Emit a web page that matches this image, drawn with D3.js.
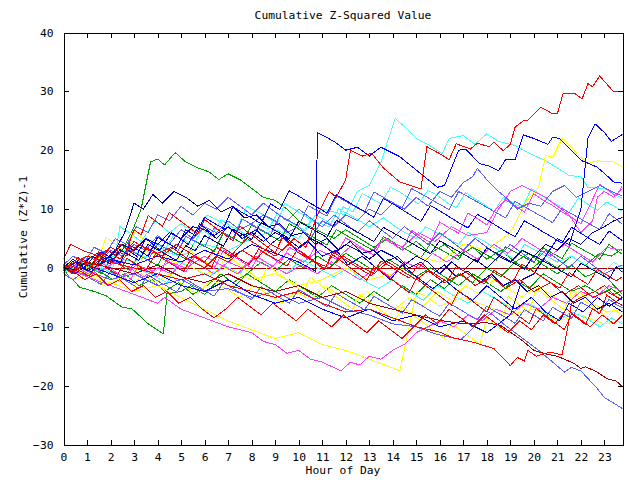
<!DOCTYPE html>
<html><head><meta charset="utf-8">
<script src="https://cdn.jsdelivr.net/npm/d3@7"></script>
<style>body{margin:0;background:#fff}svg{display:block}text{font-family:"DejaVu Sans Mono","Liberation Mono",monospace;font-size:11.3px;fill:#000}</style>
</head><body><svg id="c" width="640" height="480"></svg>
<script>
const title = "Cumulative Z-Squared Value";
const xTitle = "Hour of Day";
const yTitle = "Cumulative (Z*Z)-1";
const xTicks = d3.range(0, 24);
const yTicks = [-30, -20, -10, 0, 10, 20, 30, 40];
const xMax = 23.77;

const sRedTop = [[0,1.5],[0.3,4],[0.8,3],[1.5,2],[2,3.5],[2.7,2],[3.2,4],[4,2.5],[4.6,3.5],[5.3,1.5],[6,0],[6.5,2],[7,1],[7.6,3],[8.2,1.5],[8.8,4],[9.3,3],[9.8,5],[10.3,3.5],[10.8,9],[11.3,13],[11.6,12],[12,15],[12.2,20],[12.7,19],[13.1,19.5],[13.6,17],[14.3,14.6],[15.2,13.4],[15.45,20.6],[16.0,19.4],[16.4,18.4],[16.7,21.1],[17.3,20.2],[17.6,21.2],[18.1,20.6],[18.3,21.4],[18.7,19.9],[19.0,21],[19.2,23.9],[19.55,25],[19.75,25.1],[20.3,27.3],[20.8,26.2],[21.0,26.2],[21.25,29.7],[21.75,29.6],[22.05,28.7],[22.3,31.3],[22.5,30.8],[22.8,32.6],[23.4,29.9],[23.77,30]];
const sBlueJump = [[0,0],[0.5,1],[1,-0.5],[2,1.5],[3,0.5],[4,2],[5,1],[6,3],[7,1.5],[8,4],[9,2.5],[10,1],[10.7,-0.5],[10.8,23],[11.5,21.5],[12,20],[12.5,20.5],[13,19],[13.5,20.5],[14.3,18.9],[15.9,13.7],[16.2,14],[16.8,20],[17.1,20.2],[17.7,17.7],[18.1,17.3],[18.5,16.5],[18.8,18.4],[19.2,18.4],[19.55,22.6],[20.0,22],[20.6,21],[20.8,22.2],[21.1,22],[21.75,19.4],[22.05,18.2],[22.3,17.8],[22.7,17.1],[23.1,15.7],[23.4,14.6],[23.77,14.4]];
const sBlueEnd = [[0,0],[0.5,-1],[1,0.5],[2,-1],[3,-2.5],[4,-1],[5,-3],[6,-4],[7,-2],[8,-4.5],[9,-6],[10,-5],[11,-7],[12,-8.5],[13,-7],[14,-9],[15,-8],[16,-10],[17,-9],[18,-11],[19,-8],[19.5,-2],[20,-1],[20.5,2],[21,5],[21.5,4],[22,10],[22.3,22],[22.6,24.5],[23,23],[23.3,21.5],[23.77,22.7]];
const sCyanTop = [[0,0],[0.5,1],[1,-0.5],[2,2],[3,1],[4,3],[5,2],[6,4],[7,3],[8,5],[9,6.5],[10,5],[10.5,8],[11,10],[12,9],[12.5,13],[13,14],[13.5,18],[14.1,25.4],[14.5,24],[15,22],[15.5,21],[16.1,19.4],[16.4,22],[17,22.5],[17.5,21],[18,22.8],[18.5,21.5],[19.2,20.8],[19.8,19.5],[20.5,18.2],[21,17],[21.5,15.7],[22,15.5],[22.3,13.7],[23,13.5],[23.4,12.6],[23.77,11.8]];
const sYellowTop = [[0,0],[1,-1],[2,-2],[3,-1.5],[3.5,3],[4,2],[5,1],[6,-1],[7,0],[8,-2],[9,-1],[10,-3],[11,-2],[12,0],[13,-2],[14,-1],[15,2],[16,1],[17,4],[18,3],[19,6],[19.7,11.4],[20.2,13.7],[20.5,19.1],[20.8,18.8],[21.2,22],[21.6,20.5],[21.9,19.1],[22.3,17.7],[22.7,18.2],[23.4,18],[23.77,17.2]];
const sMagentaTop = [[0,-0.5],[0.6,0.5],[1.2,-1],[1.8,0],[2.5,-1.5],[3.1,0.5],[3.8,-0.5],[4.5,1],[5.2,0],[6,2],[6.7,0.5],[7.4,-1],[8.1,1.5],[8.8,0],[9.5,2.5],[10.2,1],[10.9,3],[11.6,1.5],[12.3,4],[13,2.5],[13.7,5],[14.4,3.5],[15.1,6],[15.8,4.5],[16.5,7],[17.2,5.5],[18,6],[18.5,10],[19,13],[19.5,14],[20,13],[20.5,12],[21,10.5],[21.5,9],[22,6],[22.5,8],[22.7,12],[23,13],[23.4,12],[23.77,13.5]];
const sLightBlueTop = [[0,-0.5],[0.5,0.5],[1,2],[1.5,1],[2,3],[2.5,2],[3,4],[3.5,3],[4,5.5],[4.5,4],[5,6.5],[5.5,5],[6,7],[6.5,6],[7,8],[7.5,6.5],[8,7.5],[8.5,9],[9,8],[9.5,6],[10,7],[10.5,5],[11,8],[11.5,7],[12,9],[12.5,8],[13,10],[13.5,9],[14,11],[14.5,10],[15,12],[15.5,10.5],[16,13],[16.5,12],[17,14.5],[17.4,15.5],[17.6,16.9],[18,15],[18.5,13],[18.8,12],[19.3,10],[19.8,11],[20.3,10.5],[20.8,13],[21.3,14],[21.8,12],[22.3,13],[22.8,14],[23.3,13],[23.77,12.2]];
const sNavyEnd = [[0,0.5],[0.5,-0.5],[1,1],[1.5,0.5],[2,2],[2.5,4],[3,3],[3.5,5],[4,4],[4.5,6],[5,5],[5.5,7],[6,6.5],[6.5,5],[7,7],[7.5,5.5],[8,6],[8.5,4.5],[9,6],[9.5,5],[10,3.5],[10.5,5],[11,4],[11.5,2.5],[12,4],[12.5,3],[13,1.5],[13.5,3],[14,2],[14.5,0.5],[15,2],[15.5,1],[16,-1],[16.5,1],[17,-0.5],[17.5,1.5],[18,0],[18.5,2],[19,1],[19.5,3],[20,2],[20.5,4],[21,3],[21.5,5],[22,4],[22.5,6],[23,7],[23.4,8],[23.77,8.6]];
const sMagentaLow = [[0,0],[0.5,-0.5],[1,-1.5],[2,-3],[3,-4.5],[4,-6],[4.3,-5],[5,-7],[6,-8.5],[7,-10],[8,-11],[8.5,-12.5],[9,-13],[9.5,-14.5],[10,-14],[10.5,-15.5],[11,-16],[11.8,-17.5],[12.2,-16],[12.6,-16.5],[13,-15],[13.5,-15.5],[14,-14],[14.5,-13],[15,-11],[15.5,-10],[16,-9],[16.6,-10],[17.2,-8],[17.8,-9],[18.4,-7],[19,-8],[19.6,-6],[20.2,-7],[20.8,-5],[21.4,-6],[22,-4],[22.6,-5],[23.2,-3],[23.77,-4]];
const sYellowLow = [[0,0],[1,-1.5],[2,-2.5],[3,-4],[4,-3],[5,-5],[6,-7],[7,-9],[8,-10.5],[9,-12],[10,-11],[11,-13],[12,-14],[13,-15.5],[14,-17],[14.3,-17.5],[14.7,-10],[15,-4],[15.5,-5],[16,-6.5],[17,-5],[18,-6.5],[19,-8],[20,-7],[21,-9],[22,-8],[23,-9.5],[23.77,-9]];
const sGreenLow = [[0,0],[0.15,-1],[0.7,-3.3],[1.3,-4],[1.8,-4.7],[2.5,-6.7],[2.9,-6.9],[3.6,-9.5],[4.25,-11.2],[4.4,-4.4],[5,-4],[5.4,-3],[6,-4.5],[6.6,-2],[7.2,-3.5],[7.8,-1],[8.4,-2.5],[9,-4],[9.6,-2],[10.2,-3.5],[10.8,-5],[11.4,-3],[12,-4.5],[12.6,-6],[13.2,-4],[13.8,-5.5],[14.4,-3],[15,-4.5],[15.6,-2],[16.2,-3.5],[16.8,-1],[17.4,-2.5],[18,0],[18.6,-1.5],[19.2,1],[19.8,-0.5],[20.4,1.5],[21,0],[21.6,2],[22.2,0.5],[22.8,2.5],[23.3,2],[23.77,3.3]];
const sGreenTop = [[0,0],[0.5,-1],[1,0],[1.5,2],[2,1],[2.5,3],[3,7],[3.3,10],[3.7,18],[4,18.5],[4.3,17.5],[4.75,19.6],[5.2,18],[5.7,17],[6.2,16.3],[6.6,15],[7,16],[7.5,15],[8,13.5],[8.5,12],[9,11.5],[9.5,10],[10,8],[10.5,7],[11,6],[11.5,5],[12,6.5],[12.6,5],[13.2,3.5],[13.8,5],[14.4,3],[15,4.5],[15.6,2.5],[16.2,4],[16.8,2],[17.4,3.5],[18,1.5],[18.6,3],[19.2,1],[19.8,2.5],[20.4,0.5],[21,-1],[21.6,0.5],[22.2,-1.5],[22.8,-0.5],[23.3,-2.5],[23.77,-4.5]];
const sDarkRedLow = [[0,0],[0.5,-0.5],[1,1],[2,0],[3,-1],[4,0.5],[5,-1.5],[6,-2.5],[7,-1],[8,-3],[9,-4],[10,-3],[11,-5],[12,-4],[13,-6],[14,-7],[15,-8],[16,-8.9],[17,-9.5],[18,-9.3],[18.6,-9.8],[19.5,-12.3],[20,-14],[20.5,-14.6],[21,-15],[21.7,-16.2],[22,-17.1],[22.2,-16.8],[22.7,-17.7],[23.1,-18.8],[23.5,-19.2],[23.77,-20.2]];
const sLightBlueLow = [[0,0],[0.5,1],[1,-0.5],[2,-2],[3,-1],[4,-3],[5,-2],[6,-4],[7,-3.5],[8,-5],[9,-4],[10,-6],[11,-5],[12,-7],[13,-8],[14,-9.5],[15,-10],[15.8,-11.2],[16.9,-12.2],[18.1,-7.5],[18.8,-9.8],[20.3,-14.3],[21.3,-17.7],[21.6,-16.9],[22,-17.5],[22.7,-20.5],[23,-22],[23.77,-23.9]];
const sRedLow = [[0,0],[1,2],[2,1],[3,0],[4,-1],[5,-2],[6,-1],[7,-3],[8,-4],[9,-5],[10,-4],[11,-6],[12,-7.5],[13,-7],[14,-8.5],[15,-10],[16,-10.9],[16.5,-11.8],[17.4,-12.6],[18.3,-13.7],[19,-16.6],[19.3,-15.2],[19.6,-15.8],[19.75,-14],[20.1,-15],[20.7,-14.3],[21.2,-14.8],[21.45,-10],[21.6,-6],[22,-5],[22.6,-4],[23,-3],[23.4,-4.5],[23.77,-3.8]];
const sNavyLeft = [[0,0],[0.4,1.5],[0.8,0.5],[1.2,2],[1.7,1],[2.2,3],[2.6,6],[3,11],[3.4,10],[3.8,12.5],[4.2,11],[4.7,13],[5.2,12],[5.7,10.5],[6.2,11.5],[6.7,9.5],[7.2,10.5],[7.7,8.5],[8.2,9],[8.7,7],[9.2,7.5],[9.7,5.5],[10.2,6],[10.7,4],[11.2,5],[11.7,3],[12.2,4.5],[12.7,2.5],[13.2,3],[13.7,1],[14.2,2],[14.7,0],[15.2,1],[15.7,-1],[16.2,0.5],[16.7,-1.5],[17.2,-0.5],[17.7,-2.5],[18.2,-1],[18.7,-3],[19.2,-2],[19.7,-4],[20.2,-3],[20.7,-5],[21.2,-4],[21.7,-6],[22.2,-5],[22.7,-7],[23.2,-6],[23.77,-7.5]];
const sCyanMid = [[0,-1],[0.3,0],[1,-1.5],[1.6,1],[2.1,0],[2.4,7],[2.8,6],[3.3,4.5],[3.9,8],[4.5,6],[5,7.5],[5.6,6],[6.1,9],[6.6,8],[7.3,6],[7.8,10.5],[8.5,9],[9.1,7.5],[9.4,11],[10,9.5],[10.6,8],[11.3,7],[11.7,10],[12.4,8.5],[13,7],[13.6,8.5],[14.3,6.5],[15,5],[15.4,7],[16.1,5.5],[16.8,4],[17.2,6],[17.9,4.5],[18.5,3],[19.2,1.5],[19.6,4],[20.3,2.5],[21,1],[21.6,2],[22.2,0.5],[22.9,-1],[23.4,1],[23.77,0]];
const sCyanLow = [[0,0],[0.6,-1],[1.2,0.5],[1.9,-0.5],[2.5,-2],[3,0],[3.7,-1],[4.4,-2.5],[4.9,1],[5.5,0],[6.2,-1.5],[6.8,0.5],[7.5,-1],[8.1,2],[8.8,0.5],[9.5,-1],[10.1,1.5],[10.8,0],[11.5,-1.5],[12.1,0],[12.7,-2],[13.4,-3.5],[14,-2],[14.7,-4],[15.3,-5.5],[15.9,-3],[16.5,-4.5],[17.2,-6],[17.8,-4],[18.5,-5.5],[19.1,-7],[19.8,-6],[20.4,-7.5],[21,-9],[21.6,-7.5],[22.2,-8.5],[22.8,-10],[23.3,-8.5],[23.77,-9.5]];
const sBlueMid = [[0,-0.5],[0.5,1],[0.9,0],[1.4,2.5],[2,1],[2.6,3.5],[3.1,2],[3.5,5],[4.1,3],[4.6,6],[5.3,4],[5.8,7.5],[6.4,5.5],[7,7],[7.6,5],[8.2,6.5],[8.8,4],[9.3,5.5],[9.9,3],[10.4,4.5],[11,2],[11.6,3],[12.1,0.5],[12.7,2],[13.3,0],[13.9,-2],[14.4,0.5],[15,-1.5],[15.7,-3.5],[16.2,-2],[16.8,-4],[17.4,-5.5],[18,-3],[18.6,-5],[19.2,-7],[19.9,-5],[20.5,-7.5],[21.1,-9],[21.5,-6],[22.1,-7.5],[22.7,-5],[23.2,-6.5],[23.77,-5]];
const sRedMid = [[0,0],[0.4,-1],[0.8,1.5],[1.3,0.5],[1.9,3],[2.4,1.5],[3,4.5],[3.6,3],[4.2,2],[4.8,4],[5.4,2.5],[6,1],[6.5,3.5],[7.1,2],[7.8,5],[8.4,3.5],[9,2],[9.6,4],[10.2,2.5],[10.7,1],[11.3,0],[11.9,2],[12.5,0.5],[13.2,-1],[13.8,1],[14.4,-0.5],[15,-2],[15.5,-0.5],[16.2,-2.5],[16.9,-1],[17.5,-3],[18.2,-1.5],[18.8,-3.5],[19.4,-2],[20,-4],[20.7,-2.5],[21.3,-4.5],[21.9,-3],[22.5,-5],[23.1,-4],[23.77,-5.5]];
const sMagentaMid = [[0,0],[0.5,-1],[1,0.5],[1.6,-0.5],[2.2,1],[2.8,0],[3.4,-1.5],[4,0],[4.6,-1],[5.2,1.5],[5.8,0.5],[6.4,-1],[7,1],[7.6,0],[8.2,2],[8.8,0.5],[9.5,-1],[10.1,0.5],[10.8,-1],[11.4,1],[12,-0.5],[12.6,-2],[13.3,0],[13.9,-1.5],[14.5,1],[15.1,0],[15.7,2.5],[16.3,1],[17,3],[17.6,1.5],[18.3,4],[18.9,2.5],[19.5,5],[20.1,3.5],[20.7,2],[21.3,4],[21.9,2.5],[22.5,1],[23.1,3.5],[23.77,3]];
const sYellowMid = [[0,-1],[0.5,-2],[1.1,-1],[1.7,-3],[2.3,-2],[2.9,-4],[3.3,-1],[3.9,-2.5],[4.5,-1],[5.1,-3],[5.7,-4.5],[6.3,-2],[6.9,-3.5],[7.5,-5],[8.1,-3],[8.7,-4.5],[9.3,-6],[9.9,-4],[10.5,-5.5],[11.1,-3],[11.7,-4.5],[12.3,-6],[12.9,-4],[13.5,-5.5],[14.1,-7],[14.7,-5],[15.3,-6.5],[15.9,-4],[16.5,-5.5],[17.1,-3],[17.7,-4.5],[18.3,-2],[18.9,-3.5],[19.5,-5],[20.1,-3],[20.7,-4.5],[21.3,-6],[21.9,-4],[22.5,-6],[23.1,-7.5],[23.77,-7]];
const sGreenMid = [[0,0],[0.5,-1],[1,0.5],[1.5,-0.5],[2.1,-2],[2.6,-1],[3.2,-3],[3.8,-2],[4.3,-4],[4.9,-2.5],[5.5,-4.5],[6.1,-3],[6.7,-1],[7.2,-2.5],[7.8,-1],[8.4,1],[9,-0.5],[9.6,1.5],[10.2,0],[10.8,2],[11.4,0.5],[12,2.5],[12.6,1],[13.2,-0.5],[13.8,1.5],[14.4,0],[15,-1.5],[15.6,0],[16.2,-1.5],[16.8,-3],[17.4,-1],[18,-2.5],[18.6,-4],[19.2,-2],[19.8,-3.5],[20.4,-1],[21,-2.5],[21.6,-4],[22.2,-3],[22.8,-4.5],[23.3,-3.5],[23.77,-5]];
const sLightBlueMid = [[0,0.5],[0.4,2],[0.9,1],[1.3,3.5],[1.8,2.5],[2.2,5],[2.7,4],[3.1,7],[3.6,6],[4,9],[4.5,8],[5,10.5],[5.5,9],[6,11],[6.5,10],[7,12],[7.5,10.5],[8,9],[8.5,11],[9,9.5],[9.5,8],[10,10],[10.5,8.5],[11,7],[11.5,9],[12,7.5],[12.5,6],[13,8],[13.5,6.5],[14,5],[14.5,7],[15,5.5],[15.5,4],[16,6],[16.5,4.5],[17,3],[17.5,5],[18,3.5],[18.5,2],[19,4],[19.5,2.5],[20,1],[20.5,3],[21,1.5],[21.5,0],[22,2],[22.5,0.5],[23,-1],[23.77,0.5]];
const sRedLeft = [[0,0.5],[0.4,-0.5],[0.9,-2],[1.4,-1],[1.9,-3],[2.4,-2],[2.9,-4],[3.4,-3],[3.9,-5],[4.4,-4],[4.9,-6],[5.4,-5],[5.9,-7],[6.4,-8.5],[6.9,-7],[7.4,-5],[7.9,-6.5],[8.4,-8],[8.9,-6],[9.4,-7.5],[9.9,-9],[10.4,-7],[10.9,-8.5],[11.4,-10],[11.9,-8],[12.4,-9.5],[12.9,-11],[13.4,-9],[13.9,-10.5],[14.4,-12],[14.9,-10],[15.4,-8],[15.9,-9.5],[16.4,-7],[16.9,-8.5],[17.4,-10],[17.9,-8],[18.4,-9.5],[18.9,-11],[19.4,-9],[19.9,-10.5],[20.4,-8],[20.9,-9.5],[21.4,-7],[21.9,-8.5],[22.4,-10],[22.9,-8],[23.4,-9.5],[23.77,-8]];
const sCyan2 = [[0,0],[0.3,-0.8],[0.7,1.2],[1.1,0.4],[1.5,-0.6],[1.9,1.8],[2.3,0.9],[2.7,3.5],[3.1,2.6],[3.5,1.7],[3.9,4.2],[4.3,3.1],[4.7,5.6],[5.1,4.8],[5.5,3.9],[5.9,6.5],[6.3,5.4],[6.7,8.2],[7.1,7.1],[7.5,6.3],[7.9,5.2],[8.3,7.4],[8.7,6.6],[9.1,9.3],[9.5,8.1],[9.9,7.2],[10.3,6.4],[10.7,9],[11.1,8.2],[11.5,7.1],[11.9,10.4],[12.3,9.5],[12.7,12.6],[13.1,11.8],[13.5,10.9],[13.9,13.7],[14.3,12.9],[14.7,11.8],[15.1,10.9],[15.5,13.2],[15.9,12.3],[16.3,11.1],[16.7,10.2],[17.1,12.8],[17.5,11.7],[17.9,10.8],[18.3,9.6],[18.7,12],[19.1,11.1],[19.5,10.2],[19.9,13.5],[20.3,12.4],[20.7,11.3],[21.1,10.5],[21.5,9.4],[21.9,11.9],[22.3,10.8],[22.7,9.8],[23.1,11.2],[23.5,10.3],[23.77,9.6]];
const sMagenta2 = [[0,-0.5],[0.4,0.6],[0.8,-0.4],[1.2,-1.3],[1.6,0.9],[2,-0.1],[2.4,-1.2],[2.8,-2.3],[3.2,0.5],[3.6,-0.6],[4,-1.5],[4.4,1.4],[4.8,0.3],[5.2,-0.7],[5.6,2.1],[6,1],[6.4,-0.1],[6.8,3],[7.2,2.1],[7.6,1],[8,0],[8.4,2.8],[8.8,1.9],[9.2,0.8],[9.6,3.5],[10,2.6],[10.4,1.5],[10.8,4.4],[11.2,3.4],[11.6,2.4],[12,5.1],[12.4,4.2],[12.8,3.1],[13.2,2.2],[13.6,5],[14,4.1],[14.4,3],[14.8,6.4],[15.2,5.3],[15.6,4.3],[16,7.8],[16.4,6.8],[16.8,5.9],[17.2,9.3],[17.6,8.4],[18,7.3],[18.4,10.1],[18.8,11.5],[19.2,10.6],[19.6,9.5],[20,12.6],[20.4,11.5],[20.8,10.6],[21.2,9.5],[21.6,8.6],[22,7.5],[22.4,10.8],[22.8,14.2],[23.2,13.1],[23.5,12.2],[23.77,14]];
const sRed2 = [[0,-0.8],[0.3,0.5],[0.7,-0.5],[1.1,-1.4],[1.5,0.8],[1.9,-0.2],[2.3,-1.1],[2.7,1.6],[3.1,0.6],[3.5,-0.4],[3.9,2.3],[4.3,1.4],[4.7,0.4],[5.1,-0.6],[5.5,2],[5.9,1.1],[6.3,0.1],[6.7,3.6],[7.1,2.6],[7.5,1.5],[7.9,0.6],[8.3,3.2],[8.7,2.2],[9.1,1.3],[9.5,0.3],[9.9,2.8],[10.3,1.9],[10.7,0.9],[11.1,-0.1],[11.5,2.6],[11.9,1.6],[12.3,0.6],[12.7,-0.4],[13.1,-1.3],[13.5,1.2],[13.9,0.3],[14.3,-0.8],[14.7,-1.7],[15.1,0.7],[15.5,-0.3],[15.9,-1.3],[16.3,-2.3],[16.7,0.2],[17.1,-0.7],[17.5,-1.8],[17.9,-2.7],[18.3,-0.4],[18.7,-1.4],[19.1,-2.4],[19.5,0.6],[19.9,-0.4],[20.3,-1.4],[20.7,-2.5],[21.1,-3.4],[21.5,-0.8],[21.9,-1.8],[22.3,-2.8],[22.7,-0.3],[23.1,-1.2],[23.5,-2.2],[23.77,-1.5]];
const sBlue2 = [[0,0.3],[0.4,-0.6],[0.8,1.5],[1.2,0.6],[1.6,2.7],[2,1.8],[2.4,0.8],[2.8,3.9],[3.2,3],[3.6,2],[4,5.2],[4.4,4.3],[4.8,3.3],[5.2,6.5],[5.6,5.5],[6,8.6],[6.4,7.6],[6.8,6.7],[7.2,10.4],[7.6,9.4],[8,8.5],[8.4,7.5],[8.8,10.9],[9.2,9.9],[9.6,13.1],[10,12.2],[10.4,11.2],[10.8,10.3],[11.2,9.3],[11.6,12.4],[12,11.5],[12.4,10.5],[12.8,9.6],[13.2,8.6],[13.6,11.8],[14,10.9],[14.4,9.9],[14.8,8.9],[15.2,7.9],[15.6,10.6],[16,9.7],[16.4,8.7],[16.8,7.7],[17.2,6.8],[17.6,9.1],[18,8.2],[18.4,7.2],[18.8,6.2],[19.2,5.3],[19.6,8],[20,7.1],[20.4,6.1],[20.8,5.2],[21.2,4.2],[21.6,6.9],[22,5.9],[22.4,4.9],[22.8,4],[23.2,6.3],[23.5,5.4],[23.77,4.6]];
const sLightBlue2 = [[0,-1],[0.4,-2],[0.8,-0.9],[1.2,-1.9],[1.6,-2.8],[2,-0.6],[2.4,-1.6],[2.8,-2.5],[3.2,-3.5],[3.6,-1.2],[4,-2.2],[4.4,-3.1],[4.8,-4.1],[5.2,-1.9],[5.6,-2.9],[6,-3.8],[6.4,-4.8],[6.8,-2.5],[7.2,-3.5],[7.6,-4.4],[8,-5.4],[8.4,-3.2],[8.8,-4.1],[9.2,-5.1],[9.6,-6],[10,-3.7],[10.4,-4.6],[10.8,-5.6],[11.2,-6.6],[11.6,-4.3],[12,-5.3],[12.4,-6.2],[12.8,-7.1],[13.2,-4.8],[13.6,-5.8],[14,-6.7],[14.4,-7.7],[14.8,-5.4],[15.2,-6.3],[15.6,-7.3],[16,-8.2],[16.4,-6],[16.8,-6.9],[17.2,-7.9],[17.6,-8.8],[18,-6.5],[18.4,-7.5],[18.8,-8.4],[19.2,-9.4],[19.6,-7.1],[20,-8],[20.4,-9],[20.8,-6.7],[21.2,-7.6],[21.6,-8.6],[22,-5.8],[22.4,-6.7],[22.8,-7.7],[23.2,-5.3],[23.5,-6.2],[23.77,-6.8]];
const sYellow2 = [[0,-0.6],[0.3,0.9],[0.6,0.1],[0.9,-0.8],[1.2,2.5],[1.5,1.6],[1.8,5.2],[2.1,4.3],[2.4,3.4],[2.7,2.5],[3,6.1],[3.3,5.2],[3.6,4.3],[3.9,3.4],[4.2,2.5],[4.5,1.6],[4.8,0.7],[5.1,3.8],[5.4,2.9],[5.7,2],[6,1.1],[6.3,0.2],[6.6,-0.7],[6.9,2.3],[7.2,1.4],[7.5,0.5],[7.8,-0.4],[8.1,-1.3],[8.4,-2.2],[8.7,0.4],[9,-0.5],[9.3,-1.4],[9.6,-2.3],[9.9,-3.2],[10.2,-4.1],[10.5,-1.6],[10.8,-2.5],[11.1,-3.4],[11.4,-4.3],[11.7,-5.2],[12,-6.1],[12.3,-7],[12.6,-4.5],[12.9,-5.4],[13.2,-6.3],[13.5,-7.2],[13.8,-8.1],[14.1,-9],[14.4,-6.6],[14.7,-7.5],[15,-8.4],[15.3,-9.3],[15.6,-10.2],[15.9,-11.1],[16.2,-12],[16.5,-9.4],[16.8,-10.3],[17.1,-11.2],[17.4,-12.1],[17.7,-13],[18,-8.6],[18.3,-9.5],[18.6,-10.4],[18.9,-4.8],[19.2,-5.7],[19.5,-6.6],[19.8,-7.5],[20.1,-3.5],[20.4,-4.4],[20.7,-5.3],[21,-6.2],[21.3,-7.1],[21.6,-3.9],[21.9,-4.8],[22.2,-5.7],[22.5,-6.6],[22.8,-7.5],[23.1,-8.4],[23.4,-7.1],[23.77,-8]];
const sRed3 = [[0,0.6],[0.3,-0.4],[0.6,1.8],[0.9,0.9],[1.2,0],[1.5,2.7],[1.8,1.8],[2.1,0.9],[2.4,4.1],[2.7,3.2],[3,6.5],[3.3,5.6],[3.6,8.9],[3.9,8],[4.2,7.1],[4.5,9.4],[4.8,8.5],[5.1,7.6],[5.4,6.7],[5.7,5.8],[6,8.2],[6.3,7.3],[6.6,6.4],[6.9,5.5],[7.2,4.6],[7.5,7.1],[7.8,6.2],[8.1,5.3],[8.4,4.4],[8.7,3.5],[9,2.6],[9.3,5.1],[9.6,4.2],[9.9,3.3],[10.2,2.4],[10.5,1.5],[10.8,0.6],[11.1,-0.3],[11.4,2.4],[11.7,1.5],[12,0.6],[12.3,-0.3],[12.6,-1.2],[12.9,-2.1],[13.2,0.3],[13.5,-0.6],[13.8,-1.5],[14.1,-2.4],[14.4,-3.3],[14.7,-4.2],[15,-1.8],[15.3,-2.7],[15.6,-3.6],[15.9,-4.5],[16.2,-5.4],[16.5,-6.3],[16.8,-3.9],[17.1,-4.8],[17.4,-5.7],[17.7,-6.6],[18,-7.5],[18.3,-5],[18.6,-5.9],[18.9,-6.8],[19.2,-7.7],[19.5,-8.6],[19.8,-9.5],[20.1,-6.9],[20.4,-7.8],[20.7,-8.7],[21,-9.6],[21.3,-10.5],[21.6,-7.8],[21.9,-8.7],[22.2,-9.6],[22.5,-6.9],[22.8,-7.8],[23.1,-4.6],[23.4,-5.5],[23.77,-6.4]];
const sNavy3 = [[0,-0.3],[0.4,1.1],[0.8,0.2],[1.2,-0.7],[1.6,1.6],[2,0.7],[2.4,3.1],[2.8,2.2],[3.2,1.3],[3.6,4],[4,3.1],[4.4,2.2],[4.8,1.3],[5.2,3.8],[5.6,2.9],[6,5.5],[6.4,4.6],[6.8,3.7],[7.2,6.6],[7.6,5.7],[8,4.8],[8.4,7.7],[8.8,6.8],[9.2,5.9],[9.6,5],[10,7.9],[10.4,7],[10.8,6.1],[11.2,5.2],[11.6,8.1],[12,7.2],[12.4,6.3],[12.8,5.4],[13.2,4.5],[13.6,6.9],[14,6],[14.4,5.1],[14.8,4.2],[15.2,3.3],[15.6,2.4],[16,4.6],[16.4,3.7],[16.8,2.8],[17.2,1.9],[17.6,1],[18,3.4],[18.4,2.5],[18.8,1.6],[19.2,0.7],[19.6,-0.2],[20,2.1],[20.4,1.2],[20.8,0.3],[21.2,-0.6],[21.6,-1.5],[22,0.8],[22.4,-0.1],[22.8,-1],[23.2,-1.9],[23.5,0.2],[23.77,-0.7]];
const sGreen3 = [[0,0],[0.4,-0.9],[0.8,0.8],[1.2,-0.1],[1.6,-1],[2,1.4],[2.4,0.5],[2.8,-0.4],[3.2,2.2],[3.6,1.3],[4,0.4],[4.4,3.3],[4.8,2.4],[5.2,1.5],[5.6,4.6],[6,3.7],[6.4,2.8],[6.8,6],[7.2,5.1],[7.6,4.2],[8,7.3],[8.4,6.4],[8.8,5.5],[9.2,4.6],[9.6,7.5],[10,6.6],[10.4,5.7],[10.8,4.8],[11.2,3.9],[11.6,6.5],[12,5.6],[12.4,4.7],[12.8,3.8],[13.2,2.9],[13.6,5.3],[14,4.4],[14.4,3.5],[14.8,2.6],[15.2,1.7],[15.6,4.1],[16,3.2],[16.4,2.3],[16.8,1.4],[17.2,4],[17.6,3.1],[18,2.2],[18.4,1.3],[18.8,3.6],[19.2,2.7],[19.6,1.8],[20,0.9],[20.4,3.4],[20.8,2.5],[21.2,1.6],[21.6,4.2],[22,3.3],[22.4,2.4],[22.8,1.5],[23.2,4],[23.5,3.1],[23.77,2.3]];
const sLightBlue3 = [[0,0.2],[0.4,-0.7],[0.8,1.2],[1.2,0.3],[1.6,2.3],[2,1.4],[2.4,0.5],[2.8,3.1],[3.2,2.2],[3.6,1.3],[4,4.1],[4.4,3.2],[4.8,2.3],[5.2,5.4],[5.6,4.5],[6,3.6],[6.4,6.8],[6.8,5.9],[7.2,5],[7.6,8.3],[8,7.4],[8.4,6.5],[8.8,5.6],[9.2,8.9],[9.6,8],[10,7.1],[10.4,10.6],[10.8,9.7],[11.2,8.8],[11.6,12.2],[12,11.3],[12.4,10.4],[12.8,9.5],[13.2,12.9],[13.6,12],[14,11.1],[14.4,10.2],[14.8,13.5],[15.2,12.6],[15.6,11.7],[16,10.8],[16.4,9.9],[16.8,13],[17.2,12.1],[17.6,11.2],[18,10.3],[18.4,9.4],[18.8,8.5],[19.2,11.3],[19.6,10.4],[20,9.5],[20.4,8.6],[20.8,7.7],[21.2,10.1],[21.6,9.2],[22,8.3],[22.4,7.4],[22.8,6.5],[23.2,9.2],[23.5,8.3],[23.77,7.4]];

const series = [sGreenTop, sGreenLow, sGreenMid, sGreen3, sCyanTop, sCyanMid, sCyanLow, sCyan2, sYellowTop, sYellowLow, sYellowMid, sYellow2, sMagentaTop, sMagentaLow, sMagentaMid, sMagenta2, sLightBlueTop, sLightBlueMid, sLightBlueLow, sLightBlue2, sLightBlue3, sNavyEnd, sNavyLeft, sNavy3, sBlueJump, sBlueEnd, sBlueMid, sBlue2, sDarkRedLow, sRedLeft, sRedMid, sRed2, sRed3, sRedLow, sRedTop];
const seriesColors = ["#00a000","#00a000","#00a000","#00a000","#40ffff","#40ffff","#40ffff","#40ffff","#ffff00","#ffff00","#ffff00","#ffff00","#ff40ff","#ff40ff","#ff40ff","#ff40ff","#6060ff","#6060ff","#6060ff","#6060ff","#6060ff","#0000a0","#0000a0","#0000a0","#0000ff","#0000ff","#0000ff","#0000ff","#a00000","#ff0000","#ff0000","#ff0000","#ff0000","#ff0000","#ff0000"];

const svg = d3.select("#c");
const L = 63.5, R = 622.5, T = 32.5, B = 444.5;
const x = d3.scaleLinear().domain([0, xMax]).range([L, R]);
const y = d3.scaleLinear().domain([-30, 40]).range([B, T]);

svg.append("rect").attr("width",640).attr("height",480).attr("fill","#fff");
svg.append("clipPath").attr("id","clip").append("rect").attr("x",L).attr("y",T).attr("width",R-L).attr("height",B-T);

const plot = svg.append("g").attr("clip-path","url(#clip)");
plot.append("line").attr("x1",x(0)).attr("x2",x(xMax)).attr("y1",Math.round(y(0))+0.5).attr("y2",Math.round(y(0))+0.5).attr("stroke","#a00000").attr("stroke-width",1);
const line = d3.line().x(d=>x(d[0])).y(d=>y(d[1]));
series.forEach((s,i)=>{
  plot.append("path").attr("d",line(s)).attr("fill","none").attr("stroke",seriesColors[i]).attr("stroke-width",1).attr("shape-rendering","crispEdges");
});

const ax = svg.append("g");
ax.append("g").attr("transform",`translate(0,${B})`).call(d3.axisBottom(x).tickValues(xTicks).tickSize(-5).tickPadding(8).tickFormat(d3.format("d")));
ax.append("g").attr("transform",`translate(0,${T})`).call(d3.axisTop(x).tickValues(xTicks).tickSize(-5).tickFormat(""));
ax.append("g").attr("transform",`translate(${L},0)`).call(d3.axisLeft(y).tickValues(yTicks).tickSize(-5).tickPadding(10).tickFormat(d3.format("d")));
ax.append("g").attr("transform",`translate(${R},0)`).call(d3.axisRight(y).tickValues(yTicks).tickSize(-5).tickFormat(""));
ax.selectAll(".domain").attr("stroke","#000").attr("shape-rendering","crispEdges");
ax.selectAll(".tick line").attr("stroke","#000").attr("shape-rendering","crispEdges");
ax.selectAll("text").attr("font-family",null).attr("font-size",null).style("font-family",'"DejaVu Sans Mono","Liberation Mono",monospace').style("font-size","11.3px").attr("fill","#000");

svg.append("text").attr("x",(L+R)/2).attr("y",19).attr("text-anchor","middle").text(title);
svg.append("text").attr("x",(L+R)/2).attr("y",474).attr("text-anchor","middle").text(xTitle);
svg.append("text").attr("transform","translate(27,237) rotate(-90)").attr("text-anchor","middle").text(yTitle);
</script></body></html>
